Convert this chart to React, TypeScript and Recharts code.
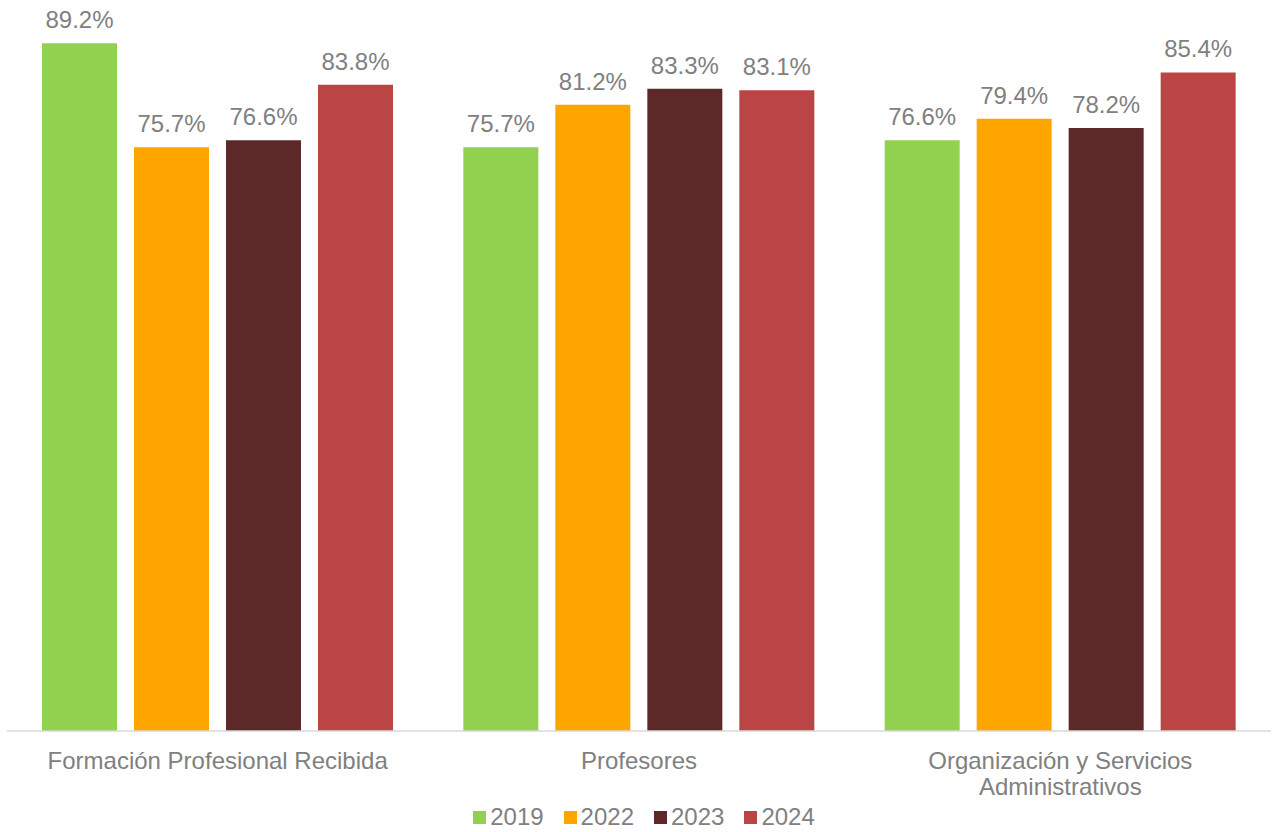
import React from 'react';
import { BarChart, Bar, XAxis, YAxis, Legend, LabelList } from 'recharts';

const categories = [
  'Formación Profesional Recibida',
  'Profesores',
  'Organización y Servicios Administrativos',
];
// how each category label breaks into lines under the axis
const tickLines = [
  ['Formación Profesional Recibida'],
  ['Profesores'],
  ['Organización y Servicios', 'Administrativos'],
];
const years = ['2019', '2022', '2023', '2024'];
const values2019 = [89.2, 75.7, 76.6];
const values2022 = [75.7, 81.2, 79.4];
const values2023 = [76.6, 83.3, 78.2];
const values2024 = [83.8, 83.1, 85.4];
const colors = ['#92D050', '#FFA500', '#5C2828', '#BB4545'];

const FONT = '"Liberation Sans", Arial, sans-serif';
const GREY = '#808080';

const data = categories.map((name, i) => ({
  name,
  y2019: values2019[i],
  y2022: values2022[i],
  y2023: values2023[i],
  y2024: values2024[i],
}));

const CategoryTick = (props: any) => {
  const { x, y, index } = props;
  const lines = tickLines[index] || [];
  return (
    <text x={x} y={y + 30} textAnchor="middle" fontSize={24} fontFamily={FONT} fill={GREY}>
      {lines.map((line, i) => (
        <tspan key={i} x={x} dy={i === 0 ? 0 : 26}>
          {line}
        </tspan>
      ))}
    </text>
  );
};

const LegendContent = (props: any) => {
  const { payload } = props;
  return (
    <div
      style={{
        display: 'flex',
        justifyContent: 'center',
        alignItems: 'center',
        height: 30,
        paddingLeft: 10,
        fontFamily: FONT,
        fontSize: 24,
        color: GREY,
      }}
    >
      {payload.map((entry: any, i: number) => (
        <div
          key={entry.value}
          style={{ display: 'flex', alignItems: 'center', marginRight: i < payload.length - 1 ? 20 : 0 }}
        >
          <span style={{ width: 13, height: 13, background: entry.color, marginRight: 4 }} />
          <span>{entry.value}</span>
        </div>
      ))}
    </div>
  );
};

const fmt = (v: any) => `${Number(v).toFixed(1)}%`;

export default function App() {
  return (
    <div style={{ position: 'absolute', left: 0, top: 0, width: 1275, height: 832, background: '#fff' }}>
      <BarChart
        width={1275}
        height={832}
        data={data}
        margin={{ top: 37, right: 4, left: 7, bottom: 0 }}
        barCategoryGap={35}
        barGap={17}
      >
        <XAxis
          dataKey="name"
          height={71}
          tickLine={false}
          axisLine={{ stroke: '#D9D9D9', strokeWidth: 1.5 }}
          tick={<CategoryTick />}
          interval={0}
        />
        <YAxis hide domain={[0, 90]} />
        <Legend verticalAlign="bottom" height={30} content={<LegendContent />} />
        {years.map((year, i) => (
          <Bar key={year} dataKey={`y${year}`} name={year} fill={colors[i]} isAnimationActive={false}>
            <LabelList
              dataKey={`y${year}`}
              position="top"
              offset={15}
              formatter={fmt}
              fill={GREY}
              fontSize={24}
              fontFamily={FONT}
            />
          </Bar>
        ))}
      </BarChart>
    </div>
  );
}
